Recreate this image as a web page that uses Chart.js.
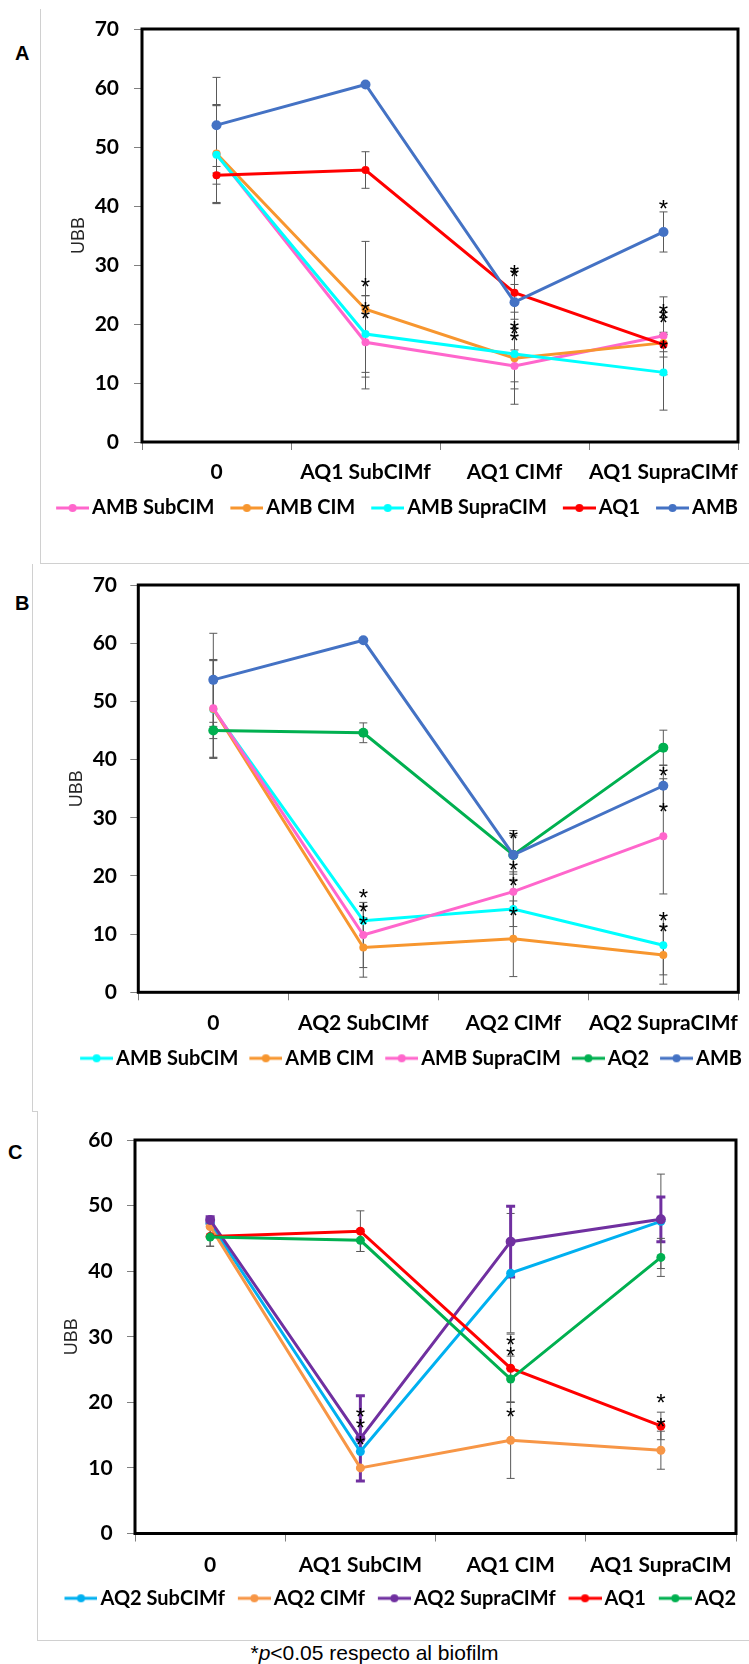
<!DOCTYPE html>
<html>
<head>
<meta charset="utf-8">
<title>UBB</title>
<script src="https://cdn.jsdelivr.net/npm/chart.js@4.4.1/dist/chart.umd.min.js"></script>
<style>
  html, body { margin: 0; padding: 0; background: #fff; }
  #page { position: relative; width: 749px; height: 1664px; overflow: hidden; background: #fff; }
  canvas { position: absolute; left: 0; }
  .tag { position: absolute; font: bold 20px "Liberation Sans", Arial, sans-serif; color: #000; line-height: 20px; }
  .rule { position: absolute; background: #d0d0d0; }
  #note { position: absolute; left: 0; width: 749px; top: 1641px; line-height: 24px; text-align: center; font-size: 21px; font-family: "Liberation Sans", Arial, sans-serif; color: #000; }
</style>
</head>
<body>
<div id="page">
  <div class="rule" style="left:40px;top:9px;width:1px;height:554px"></div>
  <div class="rule" style="left:40px;top:563px;width:709px;height:1px"></div>
  <div class="rule" style="left:32px;top:564px;width:1px;height:547px"></div>
  <div class="rule" style="left:32px;top:1111px;width:6px;height:1px"></div>
  <div class="rule" style="left:37px;top:1111px;width:1px;height:529px"></div>
  <div class="rule" style="left:37px;top:1640px;width:712px;height:1px"></div>
  <div class="tag" style="left:15px;top:43px">A</div>
  <div class="tag" style="left:15px;top:593px">B</div>
  <div class="tag" style="left:8px;top:1142px">C</div>
  <canvas id="chartA" width="749" height="535" style="top:0px"></canvas>
  <canvas id="chartB" width="749" height="535" style="top:545px"></canvas>
  <canvas id="chartC" width="749" height="530" style="top:1090px"></canvas>
  <div id="note">*<i>p</i>&lt;0.05 respecto al biofilm</div>
</div>
<script>
// categories
const catsA = ['0', 'AQ1 SubCIMf', 'AQ1 CIMf', 'AQ1 SupraCIMf'];
const catsB = ['0', 'AQ2 SubCIMf', 'AQ2 CIMf', 'AQ2 SupraCIMf'];
const catsC = ['0', 'AQ1 SubCIM', 'AQ1 CIM', 'AQ1 SupraCIM'];

// panel A: means and error (+/-)
const aAmbSub = [48.8, 16.9, 12.9, 18.0];
const aAmbSubErr = [8.3, 7.9, 2.7, 6.6];
const aAmbCim = [48.9, 22.5, 14.2, 16.8];
const aAmbCimErr = [8.3, 11.5, 7.8, 1.5];
const aAmbSupra = [48.7, 18.3, 14.9, 11.8];
const aAmbSupraErr = [8.3, 6.5, 5.9, 6.4];
const aAq1 = [45.2, 46.1, 25.3, 16.5];
const aAq1Err = [1.5, 3.1, 1.4, 2.1];
const aAmb = [53.7, 60.6, 23.7, 35.6];
const aAmbErr = [8.1, 0, 5.7, 3.4];
const aStars = [[], [27.3, 23.2, 21.8], [29.5, 28.9, 20.0, 19.2, 18.0], [40.4, 22.9, 21.9, 21.2, 16.7]];

// panel B
const bAmbSub = [48.6, 12.3, 14.3, 8.1];
const bAmbSubErr = [8.4, 2.5, 3.0, 5.1];
const bAmbCim = [48.7, 7.7, 9.2, 6.4];
const bAmbCimErr = [8.4, 5.1, 6.5, 5.0];
const bAmbSupra = [48.8, 9.85, 17.3, 26.8];
const bAmbSupraErr = [8.4, 5.6, 3.4, 9.9];
const bAq2 = [45.0, 44.6, 23.6, 42.05];
const bAq2Err = [1.4, 1.7, 3.3, 3.0];
const bAmb = [53.7, 60.5, 23.6, 35.5];
const bAmbErr = [8.0, 0, 4.2, 3.5];
const bStars = [[], [17.1, 14.7, 12.5], [27.3, 22.0, 19.2, 14.1], [38.1, 31.9, 13.2, 11.4]];

// panel C
const cAq2Sub = [47.3, 12.5, 39.7, 47.6];
const cAq2SubErr = [0, 0, 9.1, 7.2];
const cAq2Cim = [46.8, 10.0, 14.2, 12.7];
const cAq2CimErr = [0, 0, 5.8, 2.9];
const cAq2Supra = [47.8, 14.5, 44.5, 47.9];
const cAq2SupraErr = [0.5, 6.5, 5.4, 3.4];
const cAq1 = [45.3, 46.1, 25.2, 16.4];
const cAq1Err = [1.5, 3.1, 5.2, 2.1];
const cAq2 = [45.2, 44.7, 23.55, 42.1];
const cAq2Err = [1.4, 1.7, 3.5, 2.9];
const cStars = [[], [18.6, 16.9, 14.3], [29.6, 27.9, 18.6], [20.75, 17.1]];

const BOLD = 'Lato';
const FS = 21;   // axis labels
const LFS = 20;  // legend labels
const STAR = 24;

// legend swatch: line with a dot, sitting right before the text
function swatch(color, w) {
  const c = document.createElement('canvas');
  c.width = w; c.height = 12;
  const g = c.getContext('2d');
  g.strokeStyle = color; g.lineWidth = 3;
  g.beginPath(); g.moveTo(w - 33, 6); g.lineTo(w, 6); g.stroke();
  g.fillStyle = color;
  g.beginPath(); g.arc(w - 16.5, 6, 4, 0, Math.PI * 2); g.fill();
  return c;
}

// error bars, asterisks and the black frame
const marks = {
  id: 'marks',
  beforeDatasetsDraw(chart) {
    const ctx = chart.ctx, xs = chart.scales.x, ys = chart.scales.y;
    chart.data.datasets.forEach(ds => {
      const w = ds.errorWidth || 1, cap = w > 1 ? 4.5 : 4;
      ctx.save();
      ctx.strokeStyle = ds.errorColor || '#595959';
      ctx.lineWidth = w;
      ds.data.forEach((v, i) => {
        const e = ds.errors[i];
        if (!e) return;
        const px = xs.getPixelForValue(i);
        const t = ys.getPixelForValue(v + e), b = ys.getPixelForValue(v - e);
        ctx.beginPath();
        ctx.moveTo(px, t); ctx.lineTo(px, b);
        ctx.moveTo(px - cap, t); ctx.lineTo(px + cap, t);
        ctx.moveTo(px - cap, b); ctx.lineTo(px + cap, b);
        ctx.stroke();
      });
      ctx.restore();
    });
  },
  afterDatasetsDraw(chart, args, opts) {
    const ctx = chart.ctx, xs = chart.scales.x, ys = chart.scales.y, a = chart.chartArea;
    ctx.save();
    ctx.fillStyle = '#000';
    ctx.font = STAR + 'px "Liberation Sans"';
    ctx.textAlign = 'center';
    ctx.textBaseline = 'alphabetic';
    opts.stars.forEach((list, i) => {
      list.forEach(v => ctx.fillText('*', xs.getPixelForValue(i), ys.getPixelForValue(v) + STAR * 0.57));
    });
    ctx.strokeStyle = '#000';
    ctx.lineWidth = 3;
    ctx.strokeRect(a.left, a.top, a.right - a.left, a.bottom - a.top);
    ctx.restore();
  }
};

function panel(id, cats, series, stars, p) {
  const half = LFS / 2;
  // line + 3px gap before each label, p.gap between a label and the next line
  const boxW = p.gap + 36 - half;
  const legendTop = p.legendMid - half;
  const n = series.length;

  new Chart(document.getElementById(id), {
    type: 'line',
    data: {
      labels: cats,
      datasets: series.map((d, i) => ({
        label: d.label,
        data: d.data,
        errors: d.err,
        errorColor: d.errColor,
        errorWidth: d.errWidth,
        borderColor: d.color,
        backgroundColor: d.color,
        pointBackgroundColor: d.color,
        pointBorderWidth: 0,
        pointRadius: d.r || 4,
        borderWidth: 3,
        tension: 0,
        order: n - i
      }))
    },
    options: {
      responsive: false,
      animation: false,
      events: [],
      layout: { padding: { top: p.top, left: 0, right: 749 - p.right, bottom: p.h - legendTop - LFS - 10 } },
      scales: {
        x: {
          offset: true,
          grid: { offset: true, drawOnChartArea: false, tickLength: 8, color: '#808080' },
          border: { display: false },
          ticks: { autoSkip: false, maxRotation: 0, minRotation: 0, color: '#000',
            padding: p.xMid - p.bottom - 8 - FS * 0.6,
            font: { family: BOLD, weight: 'bold', size: FS } },
          afterFit(s) { s.height = legendTop - p.bottom; }
        },
        y: {
          min: 0, max: p.yMax,
          grid: { drawOnChartArea: false, tickLength: 8, color: '#808080' },
          border: { display: false },
          ticks: { stepSize: 10, color: '#000', padding: p.left - 8 - p.labelRight,
            font: { family: BOLD, weight: 'bold', size: FS } },
          title: { display: true, text: 'UBB', color: '#262626',
            font: { family: 'Liberation Sans', size: 18 },
            padding: { top: p.titleMid - 10.8, bottom: 0 } },
          afterFit(s) { s.width = p.left; }
        }
      },
      plugins: {
        tooltip: { enabled: false },
        marks: { stars },
        legend: {
          position: 'bottom',
          align: 'end',
          labels: {
            usePointStyle: true,
            pointStyleWidth: boxW,
            padding: 0,
            color: '#000',
            font: { family: BOLD, weight: 'bold', size: LFS },
            generateLabels(chart) {
              return chart.data.datasets.map((ds, i) => ({
                text: ds.label,
                pointStyle: swatch(ds.borderColor, boxW + 14),
                fillStyle: ds.borderColor,
                strokeStyle: ds.borderColor,
                lineWidth: 0,
                hidden: false,
                datasetIndex: i
              }));
            }
          }
        }
      }
    },
    plugins: [marks]
  });
}

panel('chartA', catsA, [
  { label: 'AMB SubCIM', data: aAmbSub, err: aAmbSubErr, color: '#FF66CC' },
  { label: 'AMB CIM', data: aAmbCim, err: aAmbCimErr, color: '#F7962F' },
  { label: 'AMB SupraCIM', data: aAmbSupra, err: aAmbSupraErr, color: '#00FFFF' },
  { label: 'AQ1', data: aAq1, err: aAq1Err, color: '#FF0000' },
  { label: 'AMB', data: aAmb, err: aAmbErr, color: '#4472C4', r: 5 }
], aStars, { h: 535, top: 29, bottom: 442, left: 142, right: 738, yMax: 70, labelRight: 119,
  titleMid: 79, xMid: 472, legendMid: 508, gap: 16 });

panel('chartB', catsB, [
  { label: 'AMB SubCIM', data: bAmbSub, err: bAmbSubErr, color: '#00FFFF' },
  { label: 'AMB CIM', data: bAmbCim, err: bAmbCimErr, color: '#F7962F' },
  { label: 'AMB SupraCIM', data: bAmbSupra, err: bAmbSupraErr, color: '#FF66CC' },
  { label: 'AQ2', data: bAq2, err: bAq2Err, color: '#00B050', r: 5 },
  { label: 'AMB', data: bAmb, err: bAmbErr, color: '#4472C4', r: 5 }
], bStars, { h: 535, top: 40, bottom: 447.3, left: 138.3, right: 742, yMax: 70, labelRight: 117,
  titleMid: 77.3, xMid: 478.3, legendMid: 513.3, gap: 11 });

panel('chartC', catsC, [
  { label: 'AQ2 SubCIMf', data: cAq2Sub, err: cAq2SubErr, color: '#00B0F0', r: 4.5 },
  { label: 'AQ2 CIMf', data: cAq2Cim, err: cAq2CimErr, color: '#F79646', r: 4.5 },
  { label: 'AQ2 SupraCIMf', data: cAq2Supra, err: cAq2SupraErr, color: '#7030A0', r: 5,
    errColor: '#7030A0', errWidth: 3 },
  { label: 'AQ1', data: cAq1, err: cAq1Err, color: '#FF0000', r: 4.5 },
  { label: 'AQ2', data: cAq2, err: cAq2Err, color: '#00B050', r: 4.5 }
], cStars, { h: 530, top: 50, bottom: 443.5, left: 135, right: 736, yMax: 60, labelRight: 112.7,
  titleMid: 72, xMid: 475, legendMid: 508.3, gap: 13 });
</script>
</body>
</html>
